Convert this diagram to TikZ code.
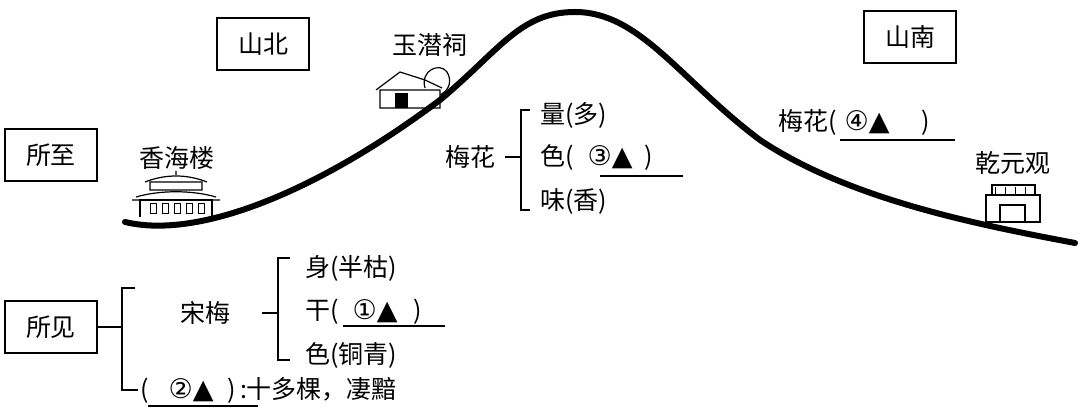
\documentclass[tikz,border=0pt]{standalone}
\usepackage{fontspec}
\newfontfamily\cjk{Noto Sans CJK SC}
\newfontfamily\sym{DejaVu Sans}
\newcommand\mk[1]{{\sym\fontsize{27}{28}\selectfont #1}}
\begin{document}
\begin{tikzpicture}[x=1pt,y=-1pt,font=\cjk\fontsize{25}{28}\selectfont,
 lbl/.style={inner sep=0pt},
 boxed/.style={draw,line width=1.2pt,minimum width=92pt,minimum height=52pt},
 brk/.style={line width=1.3pt},
 bld/.style={line width=1.2pt}]
\useasboundingbox (0,0) rectangle (1080,411);
\fill[white] (0,0) rectangle (1080,411);
% hill
\draw[line width=6pt,line cap=round] (125,222) .. controls (200,240) and (320,190) .. (440,100)
  .. controls (500,50) and (520,12) .. (575,12) .. controls (640,12) and (680,80) .. (760,140)
  .. controls (850,200) and (980,225) .. (1075,243);
% boxes
\node[boxed] (szh) at (51,155) {所至};
\node[boxed] (sb) at (263,44) {山北};
\node[boxed] (sn) at (910,37) {山南};
\node[boxed] (sj) at (51,327) {所见};
% place names
\node[lbl] (yq) at (430,45) {玉潜祠};
\node[lbl] (xh) at (177,158) {香海楼};
\node[lbl] (qy) at (1013,163) {乾元观};
% buildings (simplified)
\draw[bld] (140,217) -- (140,200) -- (212,200) -- (212,217);
\draw[bld] (132,200) -- (220,200) (136,197) .. controls (160,190) and (192,190) .. (216,197);
\draw[bld] (150,190) rectangle (202,182) (145,182) .. controls (165,174) and (187,174) .. (207,182) (176,175)--(176,171);
\foreach \x in {150,162,174,186,198} \draw (\x,203) rectangle +(6,10);
\draw[bld] (380,108) rectangle (440,90) (376,90) -- (400,72) -- (425,80) -- (442,88);
\fill (395,108) rectangle (408,93);
\draw[bld] (425,88) .. controls (420,70) and (440,62) .. (447,72) .. controls (452,80) and (450,90) .. (440,95);
\draw[bld] (986,222) rectangle (1040,195) (992,195) rectangle (1035,185);
\draw[bld] (1000,222) rectangle (1025,205);
\foreach \x in {995,1005,1015,1025} \draw (\x,187) -- (\x,194);
% middle bracket
\node[lbl] (mh) at (470,157) {梅花};
\draw[brk] (505,157) -- (521,157) (530,110) -- (521,110) -- (521,210) -- (530,210);
\node[lbl,anchor=west] (l1) at (540,115) {量(多)};
\node[lbl,anchor=west] (l2) at (540,157) {色(\hspace{14pt}\mk{③▲}\hspace{12pt})};
\node[lbl,anchor=west] (l3) at (540,202) {味(香)};
\draw[brk] (600,176) -- (683,176);
% right
\node[lbl,anchor=west] (r1) at (778,122) {梅花(\hspace{8pt}\mk{④▲}\hspace{32pt})};
\draw[brk] (840,140) -- (955,140);
% bottom
\draw[brk] (98,327) -- (122,327) (135,288) -- (122,288) -- (122,390) -- (138,390);
\node[lbl] (sm) at (205,313) {宋梅};
\draw[brk] (262,313) -- (278,313) (290,258) -- (278,258) -- (278,360) -- (290,360);
\node[lbl,anchor=west] (b1) at (305,268) {身(半枯)};
\node[lbl,anchor=west] (b2) at (305,312) {干(\hspace{14pt}\mk{①▲}\hspace{16pt})};
\node[lbl,anchor=west] (b3) at (305,355) {色(铜青)};
\draw[brk] (343,326) -- (445,326);
\node[lbl,anchor=west] (b4) at (140,390) {(\hspace{20pt}\mk{②▲}\hspace{14pt})\hspace{4pt}:十多棵，凄黯};
\draw[brk] (148,406) -- (258,406);
\end{tikzpicture}
\end{document}
